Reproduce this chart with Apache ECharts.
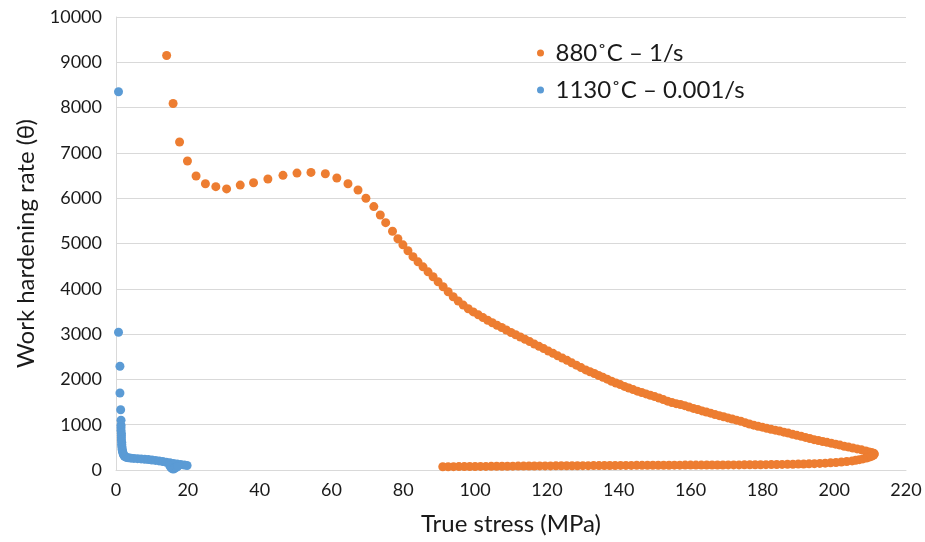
<!DOCTYPE html>
<html>
<head>
<meta charset="utf-8">
<title>Work hardening rate vs true stress</title>
<script src="https://cdn.jsdelivr.net/npm/echarts@6/dist/echarts.min.js"></script>
<style>
  html, body { margin: 0; padding: 0; background: #ffffff; }
  #chart { width: 925px; height: 542px; }
</style>
</head>
<body>
<div id="chart"></div>
<script>
// Series names shown in the legend
const seriesNames = ['880˚C – 1/s', '1130˚C – 0.001/s'];

// 880˚C – 1/s : true stress (MPa)
const stress880 = [
  14.1, 15.9, 17.7, 19.9, 22.3, 24.9, 27.8, 30.8, 34.6, 38.3, 42.3, 46.5, 50.4, 54.3,
  58.3, 61.5, 64.6, 67.4, 69.6, 71.8, 73.6, 75.1, 77.0, 78.5,
  79.9, 81.3, 82.7, 84.1, 85.5, 86.9, 88.3, 89.7, 91.1, 92.5, 93.9, 95.3, 96.7, 98.1,
  99.5, 100.9, 102.2, 103.5, 104.8, 106.1, 107.4, 108.7, 110.0, 111.3, 112.6, 113.9,
  115.2, 116.5, 117.8, 119.1, 120.4, 121.7, 123.0, 124.3, 125.6, 126.9, 128.2, 129.5,
  130.8, 132.0, 133.2, 134.4, 135.6, 136.8, 138.0, 139.2, 140.4, 141.6, 142.8, 144.0,
  145.2, 146.4, 147.6, 148.8, 150.0, 151.2, 152.4, 153.6, 154.8, 156.0, 157.2, 158.4,
  159.6, 160.8, 162.0, 163.2, 164.4, 165.6, 166.8, 168.0, 169.2, 170.4, 171.6, 172.8,
  174.0, 175.2, 176.4, 177.6, 178.8, 180.0, 181.2, 182.4, 183.6, 184.8, 186.0, 187.2,
  188.4, 189.6, 190.8, 192.0, 193.2, 194.4, 195.6, 196.8, 198.0, 199.2, 200.4, 201.6,
  202.8, 204.0, 205.2, 206.4, 207.6, 208.8, 209.7, 210.4, 211.0,
  // unloading branch, back toward lower stress
  211.2, 211.0, 210.5, 209.8, 209.0, 208.0, 207.0, 206.0, 205.0, 203.5, 202.0, 200.5,
  199.0, 197.5, 196.0, 194.5, 193.0, 191.5, 190.0, 188.5, 187.0, 185.5, 184.0, 182.5,
  181.0, 179.5, 178.0, 176.5, 175.0, 173.5, 172.0, 170.5, 169.0, 167.5, 166.0, 164.5,
  163.0, 161.5, 160.0, 158.5, 157.0, 155.5, 154.0, 152.5, 151.0, 149.5, 148.0, 146.5,
  145.0, 143.5, 142.0, 140.5, 139.0, 137.5, 136.0, 134.5, 133.0, 131.5, 130.0, 128.5,
  127.0, 125.5, 124.0, 122.5, 121.0, 119.5, 118.0, 116.5, 115.0, 113.5, 112.0, 110.5,
  109.0, 107.5, 106.0, 104.5, 103.0, 101.5, 100.0, 98.5, 97.0, 95.5, 94.0, 92.5, 91.0
];
// 880˚C – 1/s : work hardening rate θ
const theta880 = [
  9150, 8090, 7240, 6820, 6490, 6320, 6255, 6205, 6290, 6340, 6425, 6505, 6555, 6570,
  6540, 6445, 6320, 6180, 6000, 5815, 5630, 5460, 5270, 5106,
  4970, 4840, 4710, 4595, 4485, 4375, 4267, 4155, 4045, 3935, 3825, 3730, 3640, 3560,
  3490, 3425, 3365, 3305, 3250, 3195, 3145, 3090, 3035, 2985, 2935, 2885,
  2835, 2780, 2730, 2680, 2625, 2575, 2520, 2470, 2420, 2365, 2315, 2260,
  2210, 2170, 2130, 2085, 2045, 2005, 1960, 1920, 1885, 1845, 1810, 1775,
  1740, 1710, 1680, 1650, 1620, 1590, 1555, 1520, 1490, 1465, 1445, 1420,
  1390, 1360, 1335, 1305, 1280, 1255, 1225, 1200, 1175, 1150, 1125, 1100,
  1075, 1045, 1015, 990, 965, 945, 920, 900, 880, 860, 835, 815,
  790, 765, 745, 720, 695, 670, 650, 630, 610, 590, 570, 550,
  525, 505, 485, 465, 445, 420, 400, 385, 370,
  355, 330, 305, 285, 265, 245, 228, 213, 200, 187, 176, 166,
  158, 151, 145, 140, 136, 133, 130, 127, 125, 123, 121, 120,
  118, 117, 116, 115, 114, 113, 113, 112, 111, 111, 110, 110,
  109, 109, 108, 108, 107, 107, 106, 106, 105, 105, 104, 103,
  103, 102, 101, 101, 100, 99, 99, 98, 97, 96, 96, 95,
  94, 93, 93, 92, 91, 90, 90, 89, 88, 87, 86, 85,
  84, 83, 82, 81, 80, 79, 78, 77, 76, 75, 74, 73, 72
];

// 1130˚C – 0.001/s : true stress (MPa)
const stress1130 = [
  0.7, 0.7, 1.1, 1.1, 1.3, 1.4, 1.4, 1.4, 1.4, 1.5, 1.5, 1.5, 1.5, 1.6, 1.6, 1.6,
  1.7, 1.7, 1.8, 1.9, 2.0, 2.1, 2.3, 2.6, 3.0, 3.5, 4.2, 5.0, 6.0, 7.0, 8.0, 9.0,
  10.0, 11.0, 12.0, 13.0, 14.0, 15.0, 16.0, 17.0, 18.0, 19.0, 19.8,
  15.0, 15.3, 15.6, 16.0, 16.4, 16.8, 17.2
];
// 1130˚C – 0.001/s : work hardening rate θ
const theta1130 = [
  8350, 3040, 2290, 1700, 1330, 1100, 990, 930, 870, 810, 760, 710, 660, 610, 570, 530,
  490, 450, 420, 390, 360, 335, 310, 290, 275, 268, 262, 256, 250, 245, 238, 230,
  222, 212, 200, 188, 172, 160, 145, 132, 120, 110, 100,
  90, 55, 30, 20, 40, 60, 80
];

// Axis ranges and ticks
const xMin = 0, xMax = 220, xStep = 20;
const yMin = 0, yMax = 10000, yStep = 1000;

const pairs = (xs, ys) => xs.map((x, i) => [x, ys[i]]);

const FONT = 'Lato, "Open Sans", "Liberation Sans", sans-serif';
const TEXT = '#1a1a1a';
const GRID = '#d9d9d9';

const chart = echarts.init(document.getElementById('chart'), null, { renderer: 'canvas' });

chart.setOption({
  animation: false,
  backgroundColor: '#ffffff',
  textStyle: { fontFamily: FONT },
  grid: { left: 116, right: 19, top: 17, bottom: 72, containLabel: false },
  legend: {
    orient: 'vertical',
    left: 532,
    top: 36,
    itemWidth: 20,
    itemHeight: 7,
    itemGap: 13,
    icon: 'circle',
    textStyle: { fontFamily: FONT, fontSize: 24, color: TEXT, lineHeight: 24 },
    data: seriesNames
  },
  xAxis: {
    type: 'value',
    min: xMin, max: xMax, interval: xStep,
    name: 'True stress (MPa)',
    nameLocation: 'middle',
    nameGap: 42,
    nameTextStyle: { fontFamily: FONT, fontSize: 24, color: TEXT },
    axisLine: { show: true, lineStyle: { color: GRID, width: 1 } },
    axisTick: { show: false },
    axisLabel: { fontFamily: FONT, fontSize: 18, color: TEXT, margin: 11, formatter: v => String(v) },
    splitLine: { show: false }
  },
  yAxis: {
    type: 'value',
    min: yMin, max: yMax, interval: yStep,
    name: 'Work hardening rate (θ)',
    nameLocation: 'middle',
    nameGap: 78,
    nameTextStyle: { fontFamily: FONT, fontSize: 24, color: TEXT },
    axisLine: { show: true, lineStyle: { color: GRID, width: 1 } },
    axisTick: { show: false },
    axisLabel: { fontFamily: FONT, fontSize: 18, color: TEXT, margin: 14, formatter: v => String(v) },
    splitLine: { show: true, lineStyle: { color: GRID, width: 1 } }
  },
  series: [
    {
      name: seriesNames[0],
      type: 'scatter',
      symbol: 'circle',
      symbolSize: 9,
      itemStyle: { color: '#ED7D31', opacity: 1 },
      data: pairs(stress880, theta880)
    },
    {
      name: seriesNames[1],
      type: 'scatter',
      symbol: 'circle',
      symbolSize: 9,
      itemStyle: { color: '#5B9BD5', opacity: 1 },
      data: pairs(stress1130, theta1130)
    }
  ]
});
</script>
</body>
</html>
